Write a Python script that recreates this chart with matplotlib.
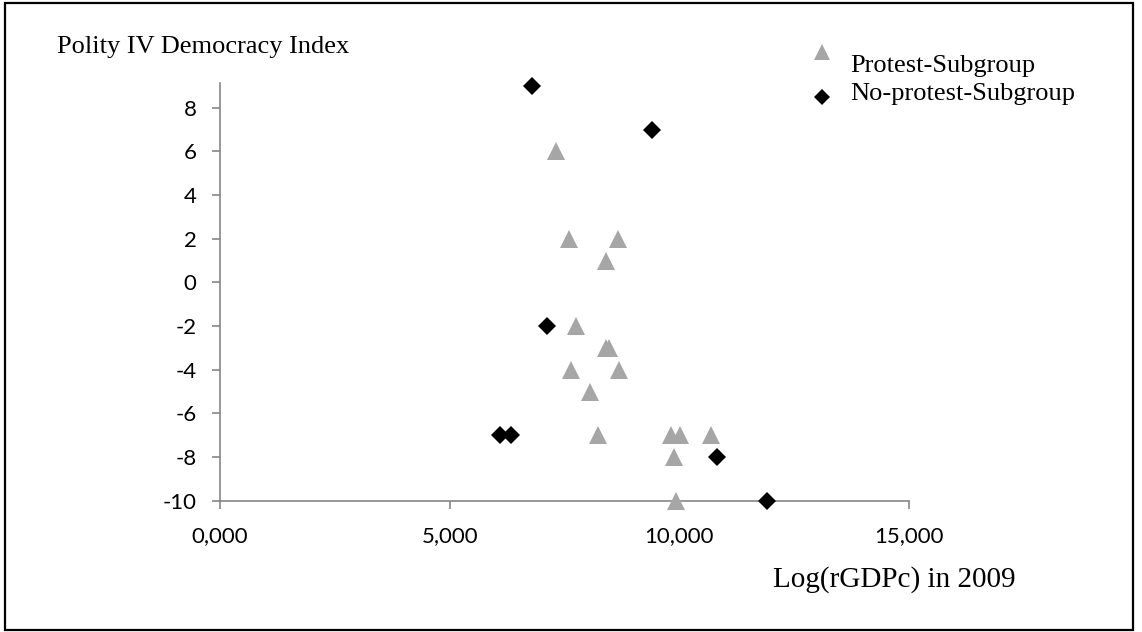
import matplotlib
matplotlib.use("Agg")
import matplotlib.pyplot as plt
from matplotlib.patches import Rectangle
from matplotlib.lines import Line2D

# ---- data ----
protest_x = [7.32, 7.59, 8.67, 8.41, 7.74, 8.40, 8.47, 7.64, 8.69, 8.06,
             8.24, 9.81, 10.01, 10.69, 9.88, 9.93]
protest_y = [6, 2, 2, 1, -2, -3, -3, -4, -4, -5,
             -7, -7, -7, -7, -8, -10]
noprotest_x = [6.79, 9.41, 7.11, 6.10, 6.34, 10.81, 11.91]
noprotest_y = [9, 7, -2, -7, -7, -8, -10]

x_ticks = [0, 5, 10, 15]
x_ticklabels = ["0,000", "5,000", "10,000", "15,000"]
y_ticks = [-10, -8, -6, -4, -2, 0, 2, 4, 6, 8]

series_labels = ["Protest-Subgroup", "No-protest-Subgroup"]
y_title = "Polity IV Democracy Index"
x_title = "Log(rGDPc) in 2009"

# ---- figure ----
W, H = 1142, 632
fig = plt.figure(figsize=(W / 100, H / 100), dpi=100)
fig.patch.set_facecolor("white")

def fx(px):
    return px / W

def fy(py):
    return 1 - py / H

ax = fig.add_axes([fx(220), fy(500.7), fx(909) - fx(220), fy(83) - fy(500.7)])
ax.set_xlim(0, 15)
ax.set_ylim(-10, 9.13)

gray_tri = "#A6A6A6"
spine_col = "#868686"

ax.plot(protest_x, protest_y, linestyle="none", marker="^", ms=13,
        color=gray_tri, mec=gray_tri, mew=0, clip_on=False, zorder=5)
ax.plot(noprotest_x, noprotest_y, linestyle="none", marker="D", ms=9,
        color="black", mec="black", mew=0, clip_on=False, zorder=6)

for s in ["top", "right"]:
    ax.spines[s].set_visible(False)
for s in ["left", "bottom"]:
    ax.spines[s].set_color(spine_col)
    ax.spines[s].set_linewidth(1.2)

ax.set_xticks(x_ticks)
ax.set_xticklabels(x_ticklabels)
ax.set_yticks(y_ticks)
ax.set_yticklabels([str(v) for v in y_ticks])
tick_font = dict(family=["Lato", "DejaVu Sans"], size=16)
for lab in ax.get_xticklabels() + ax.get_yticklabels():
    lab.set_fontfamily(["Lato", "DejaVu Sans"])
    lab.set_fontsize(16)
ax.tick_params(axis="both", direction="out", length=6, width=1.2,
               color=spine_col, labelcolor="black")
ax.tick_params(axis="y", pad=11)
ax.tick_params(axis="x", pad=12)

serif = ["Liberation Serif", "DejaVu Serif"]
fig.text(fx(57), fy(53), y_title, family=serif, fontsize=19,
         ha="left", va="baseline")
fig.text(fx(773), fy(587), x_title, family=serif, fontsize=21,
         ha="left", va="baseline")

# legend (manual, like the original layout)
fig.add_artist(Line2D([fx(822)], [fy(52)], linestyle="none", marker="^",
                      ms=12, color=gray_tri, mew=0, transform=fig.transFigure))
fig.add_artist(Line2D([fx(822)], [fy(97)], linestyle="none", marker="D",
                      ms=8.5, color="black", mew=0, transform=fig.transFigure))
fig.text(fx(850), fy(72), series_labels[0], family=serif, fontsize=19,
         ha="left", va="baseline")
fig.text(fx(850), fy(100), series_labels[1], family=serif, fontsize=19,
         ha="left", va="baseline")

# outer border
fig.add_artist(Rectangle((fx(5), fy(630)), fx(1133) - fx(5), fy(3) - fy(630),
                         transform=fig.transFigure, fill=False,
                         edgecolor="black", linewidth=1.6))

fig.savefig("out.png", dpi=100)
